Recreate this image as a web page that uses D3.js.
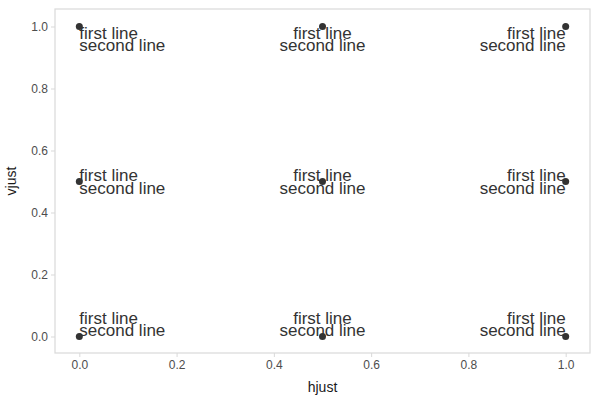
<!DOCTYPE html><html><head><script src="https://cdn.jsdelivr.net/npm/d3@7"></script>
<style>body{margin:0;background:#fff}</style></head><body><svg id="c" width="600" height="400"></svg>
<script>
const hjust=[0,0.5,1,0,0.5,1,0,0.5,1];
const vjust=[1,1,1,0.5,0.5,0.5,0,0,0];
const lines=["first line","second line"];
const xTicks=[0,0.2,0.4,0.6,0.8,1.0];
const yTicks=[0,0.2,0.4,0.6,0.8,1.0];
const svg=d3.select("#c"),L=55,R=590,T=9,B=353;
const x=d3.scaleLinear().domain([-0.05,1.05]).range([L,R]);
const y=d3.scaleLinear().domain([-0.05,1.05]).range([B-1,T+2]);
const f="Liberation Sans, Arial, sans-serif";
svg.append("rect").attr("x",L).attr("y",T).attr("width",R-L).attr("height",B-T).attr("fill","none").attr("stroke","#d9d9d9").attr("stroke-width",1.2);
const gx=svg.append("g").attr("transform",`translate(0,${B})`).call(d3.axisBottom(x).tickValues(xTicks).tickFormat(d3.format(".1f")).tickSize(4).tickPadding(3));
const gy=svg.append("g").attr("transform",`translate(${L},0)`).call(d3.axisLeft(y).tickValues(yTicks).tickFormat(d3.format(".1f")).tickSize(4).tickPadding(3));
[gx,gy].forEach(g=>{g.select(".domain").remove();g.selectAll("line").attr("stroke","#d9d9d9");g.selectAll("text").attr("fill","#4d4d4d").style("font-size","12px").style("font-family",f);});
svg.append("text").attr("x",(L+R)/2).attr("y",392).attr("text-anchor","middle").attr("fill","#1a1a1a").style("font-size","14px").style("font-family",f).text("hjust");
svg.append("text").attr("transform",`translate(16,${(T+B)/2}) rotate(-90)`).attr("text-anchor","middle").attr("fill","#1a1a1a").style("font-size","14px").style("font-family",f).text("vjust");
const data=hjust.map((h,i)=>({h,v:vjust[i]}));
svg.selectAll("circle").data(data).join("circle").attr("cx",d=>x(d.h)).attr("cy",d=>y(d.v)).attr("r",3.5).attr("fill","#333");
const anchor=h=>h===0?"start":h===1?"end":"middle";
data.forEach(d=>{lines.forEach((t,j)=>{
svg.append("text").attr("x",x(d.h)).attr("y",y(d.v)+12-(1-d.v)*25+j*12.7).attr("text-anchor",anchor(d.h)).attr("fill","#333").style("font-size","17px").style("font-family",f).text(t);});});
</script></body></html>
